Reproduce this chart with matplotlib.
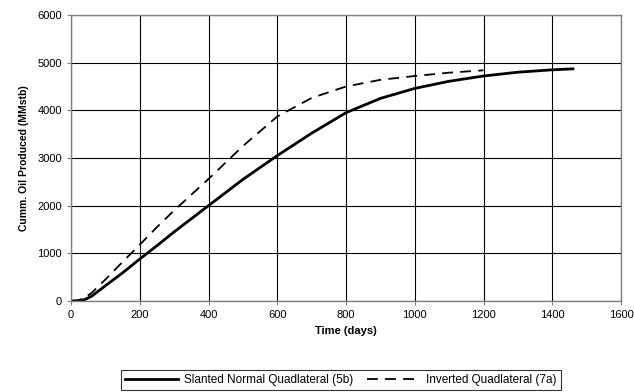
import matplotlib
matplotlib.use("Agg")
import matplotlib.pyplot as plt

plt.rcParams['font.family'] = ['Liberation Sans', 'DejaVu Sans']

# Slanted Normal Quadlateral (5b)
days_5b = [0, 20, 40, 60, 100, 150, 200, 250, 300, 400, 500, 600, 700, 800, 900, 1000, 1100, 1200, 1300, 1400, 1460]
oil_5b = [0, 5, 30, 100, 320, 590, 880, 1160, 1450, 2000, 2550, 3050, 3520, 3950, 4250, 4460, 4610, 4720, 4800, 4850, 4870]

# Inverted Quadlateral (7a)
days_7a = [0, 20, 40, 60, 100, 150, 200, 250, 300, 400, 500, 600, 700, 800, 900, 1000, 1100, 1200]
oil_7a = [0, 10, 70, 170, 450, 820, 1180, 1550, 1900, 2560, 3250, 3870, 4260, 4500, 4640, 4720, 4790, 4840]

xticks = [0, 200, 400, 600, 800, 1000, 1200, 1400, 1600]
yticks = [0, 1000, 2000, 3000, 4000, 5000, 6000]

fig = plt.figure(figsize=(6.34, 3.92), dpi=100)
ax = fig.add_axes([71/634, 1 - 301/392, 550/634, 286/392])

ax.plot(days_5b, oil_5b, color='black', lw=2.0, label='Slanted Normal Quadlateral (5b)')
ax.plot(days_7a, oil_7a, color='black', lw=1.3, ls=(0, (6, 4)), label='Inverted Quadlateral (7a)')

ax.set_xlim(0, 1600)
ax.set_ylim(0, 6000)
ax.set_xticks(xticks)
ax.set_yticks(yticks)
ax.grid(True, color='black', lw=0.8)
for s in ax.spines.values():
    s.set_color('#808080')
    s.set_linewidth(1)
ax.tick_params(labelsize=8, length=3, color='#808080')
ax.set_xlabel('Time (days)', fontsize=8, fontweight='bold', labelpad=4)
ax.set_ylabel('Cumm. Oil Produced (MMstb)', fontsize=7.5, fontweight='bold', labelpad=6)

leg = fig.legend(loc='center', bbox_to_anchor=(341/634, 1 - 380/392), ncol=2, fontsize=8.5,
                 frameon=True, fancybox=False, edgecolor='black', handlelength=4.5,
                 borderpad=0.3, columnspacing=1.2, handletextpad=0.5)
leg.get_frame().set_linewidth(0.8)

fig.savefig('out.png', dpi=100)
